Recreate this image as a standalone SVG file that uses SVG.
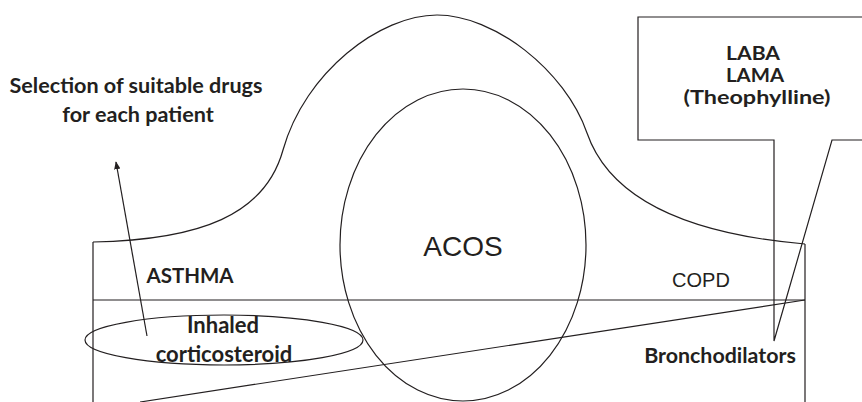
<svg xmlns="http://www.w3.org/2000/svg" width="862" height="402" viewBox="0 0 862 402">
<style>
.ln{fill:none;stroke:#231f20;stroke-width:1.2}
.tb{font-family:Lato,"Open Sans",sans-serif;font-weight:bold;fill:#231f20;text-anchor:middle}
.ta{font-family:"Liberation Sans",Arial,sans-serif;fill:#231f20;text-anchor:middle}
.co{font-size:18.5px}
</style>
<defs>
<marker id="ah" viewBox="0 0 10 10" refX="9" refY="5" markerWidth="8" markerHeight="8" orient="auto" markerUnits="userSpaceOnUse">
<path d="M0,1 L10,5 L0,9 z" fill="#231f20"/>
</marker>
</defs>
<rect width="862" height="402" fill="#fff"/>
<g id="bell">
<path class="ln" d="M93,242 C200,240 265,215 283,150 C305,72 380,15 437,15 C494,15 565,70 587,133 C612,205 700,235 805,244"/>
<path class="ln" d="M93,242 V402 M805,244 V402 M93,300 H805"/>
<text class="tb" x="190" y="283" font-size="20.5">ASTHMA</text>
<text class="ta" x="701" y="287" font-size="20">COPD</text>
</g>
<g id="acos">
<ellipse class="ln" cx="463" cy="245" rx="123" ry="156"/>
<text class="ta" x="463" y="256" font-size="28">ACOS</text>
</g>
<g id="ics">
<ellipse class="ln" cx="224" cy="340" rx="139" ry="25"/>
<text class="tb" x="223" y="333" font-size="22">Inhaled</text>
<text class="tb" x="224" y="362" font-size="22">corticosteroid</text>
</g>
<g id="selection">
<text class="tb" x="136" y="93" font-size="21.6">Selection of suitable drugs</text>
<text class="tb" x="138" y="122" font-size="21.6">for each patient</text>
</g>
<g id="callout">
<path class="ln" d="M862,17 H638 V140 H774 V341 L832,140 H862"/>
<text class="tb co" x="753" y="60" textLength="54" lengthAdjust="spacingAndGlyphs">LABA</text>
<text class="tb co" x="755" y="82" textLength="58" lengthAdjust="spacingAndGlyphs">LAMA</text>
<text class="tb co" x="757" y="104" textLength="147" lengthAdjust="spacingAndGlyphs">(Theophylline)</text>
</g>
<g id="bronchodilators">
<text class="tb" x="720" y="363" font-size="21.4">Bronchodilators</text>
</g>
<g id="connectors">
<path class="ln" d="M147,336 L116,162" marker-end="url(#ah)"/>
<path class="ln" d="M805,300 L140,402"/>
</g>
</svg>
